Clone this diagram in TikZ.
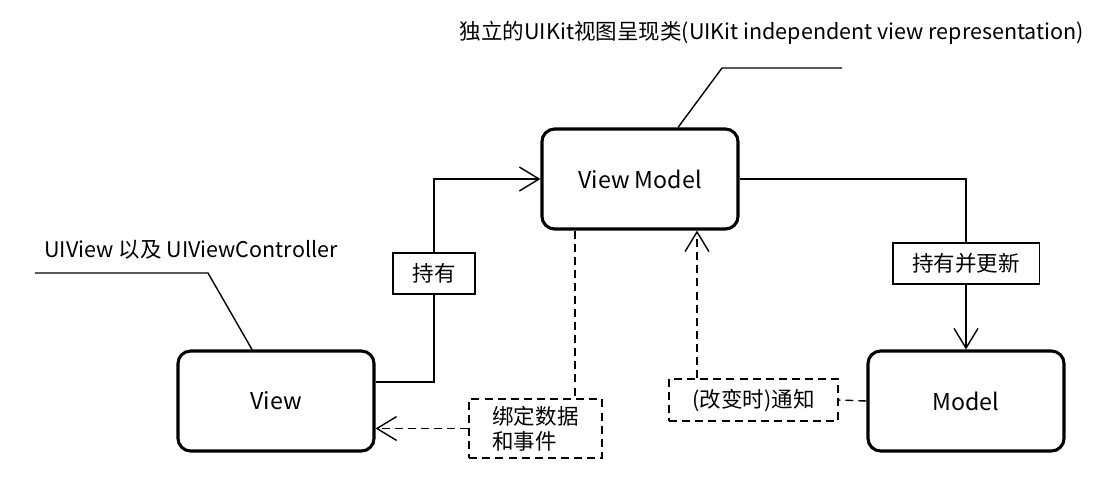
\documentclass[tikz,border=0pt]{standalone}
\usepackage{fontspec}
\setmainfont{Noto Sans CJK SC}
\usetikzlibrary{arrows.meta, positioning}

\begin{document}
\begin{tikzpicture}[x = 0.025cm, y = -0.025cm,
	> = {Straight Barb[length = 14pt, width = 17pt]},
	font = \fontsize{15.3}{17.8}\selectfont,
	class/.style = {draw, line width = 2.2pt, rounded corners = 9pt, minimum width = 4.9cm, minimum height = 2.5cm, font = \fontsize{16.5}{19}\selectfont},
	tag/.style = {draw, fill = white, line width = 1.4pt, inner xsep = 14pt, minimum height = 1.025cm},
	dashtag/.style = {draw, line width = 1.4pt, dash pattern = on 5.7pt off 3.6pt, inner xsep = 16.5pt, inner ysep = 5pt},
	link/.style = {line width = 1pt},
	dashlink/.style = {line width = 1pt, dash pattern = on 5.7pt off 3.6pt}]

	% Fix the page size

	\useasboundingbox (0, 0) rectangle (1116, 495);

	% Classes

	\node [class] (vm) at (640, 179) {View Model};
	\node [class] (view) at (276, 401) {View};
	\node [class] (model) at (966, 401) {Model};

	% Relation labels

	\node [tag] (hold) at (434, 273.5) {持有};
	\node [tag] (holdupd) at (966, 263.5) {持有并更新};
	\node [dashtag, align = left] (bind) at (535.5, 428.5) {绑定数据\\和事件};
	\node [dashtag, minimum height = 1.05cm] (notify) at (753.5, 400) {(改变时)通知};

	% Annotations

	\node (vmnote) at (772, 33) {独立的UIKit视图呈现类(UIKit independent view representation)};
	\node (viewnote) at (191, 250) {UIView 以及 UIViewController};

	\coordinate (vmbend) at (722, 68);
	\coordinate (vmend) at (842, 68);
	\coordinate (viewbend) at (208, 273);
	\coordinate (viewend) at (35, 273);

	\draw [link] ([xshift = 0.95cm] vm.north) -- (vmbend) -- (vmend);
	\draw [link] ([xshift = -0.6cm] view.north) -- (viewbend) -- (viewend);

	% View holds View Model

	\draw [link] ([yshift = 0.475cm] view.east) -| (hold.south);
	\draw [link, ->] (hold.north) |- (vm.west);

	% View Model holds and updates Model

	\draw [link] (vm.east) -| (holdupd.north);
	\draw [link, ->] (holdupd.south) -- (model.north);

	% Binding of data and events

	\coordinate (bindleg) at (575, 300);
	\draw [dashlink] (vm.south -| bindleg) -- (bind.north -| bindleg);
	\draw [dashlink, ->] (bind.west) -- (bind.west -| view.east);

	% Notification on change

	\coordinate (notifyleg) at (697, 300);
	\draw [dashlink] (model.west) -- (notify.east);
	\draw [dashlink, ->] (notify.north -| notifyleg) -- (vm.south -| notifyleg);

\end{tikzpicture}
\end{document}
